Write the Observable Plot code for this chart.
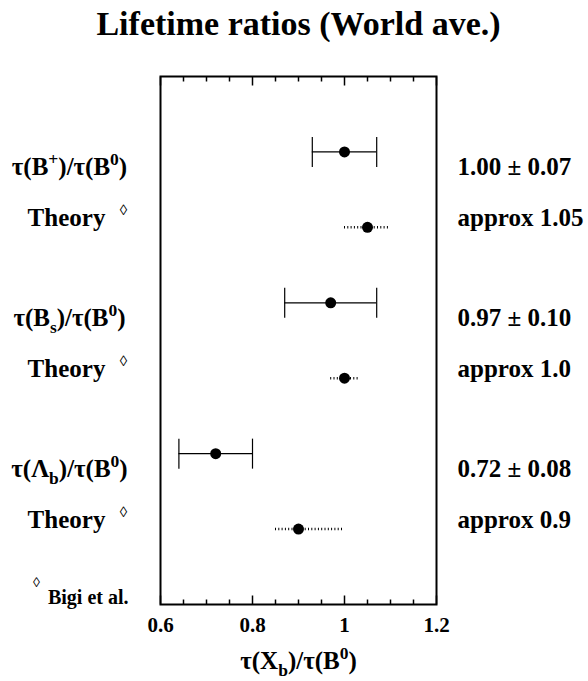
<!DOCTYPE html>
<html><head><meta charset="utf-8">
<script src="https://cdn.jsdelivr.net/npm/d3@7"></script>
<script src="https://cdn.jsdelivr.net/npm/@observablehq/plot@0.6"></script>
<style>
body{margin:0;background:#fff;}
svg{display:block;}
#chart svg, #chart svg text, #chart svg tspan{font-family:"Liberation Serif","Times New Roman","DejaVu Serif",serif !important;}
</style>
</head><body><div id="chart"></div>
<script>
const title = "Lifetime ratios (World ave.)";
const xLabel = "τ(X_{b})/τ(B^{0})";
const footnoteText = "Bigi et al.";
const theoryMark = "◊";

const measNames = ["τ(B^{+})/τ(B^{0})", "τ(B_{s})/τ(B^{0})", "τ(Λ_{b})/τ(B^{0})"];
const measRows = [1, 3, 5];
const measValues = [1.00, 0.97, 0.72];
const measErrors = [0.07, 0.10, 0.08];
const measTexts = ["1.00 ± 0.07", "0.97 ± 0.10", "0.72 ± 0.08"];

const theoryNames = ["Theory", "Theory", "Theory"];
const theoryRows = [2, 4, 6];
const theoryValues = [1.05, 1.00, 0.90];
const theoryLow = [1.00, 0.97, 0.85];
const theoryHigh = [1.10, 1.03, 1.00];
const theoryTexts = ["approx 1.05", "approx 1.0", "approx 0.9"];

const majorTicks = [0.6, 0.8, 1.0, 1.2];
const tickLabels = ["0.6", "0.8", "1", "1.2"];
const minorTicks = [0.65, 0.7, 0.75, 0.85, 0.9, 0.95, 1.05, 1.1, 1.15];

const meas = measNames.map((name, i) => ({
  name, row: measRows[i], value: measValues[i],
  lo: measValues[i] - measErrors[i], hi: measValues[i] + measErrors[i], text: measTexts[i]
}));
const theory = theoryNames.map((name, i) => ({
  name, row: theoryRows[i], value: theoryValues[i],
  lo: theoryLow[i], hi: theoryHigh[i], text: theoryTexts[i]
}));

const FONT = "'Liberation Serif', 'Times New Roman', 'DejaVu Serif', serif";
const rad = (size) => Math.sqrt(size / Math.PI);
const capSymbol = {draw(ctx, size) { const r = rad(size); ctx.moveTo(0, -r); ctx.lineTo(0, r); }};
const tickUp = {draw(ctx, size) { const r = rad(size); ctx.moveTo(0, 0); ctx.lineTo(0, -r); }};
const tickDown = {draw(ctx, size) { const r = rad(size); ctx.moveTo(0, 0); ctx.lineTo(0, r); }};

const txt = {fontFamily: FONT, fontWeight: "bold", fill: "black"};

const chart = Plot.plot({
  width: 588,
  height: 681,
  marginLeft: 160,
  marginRight: 152,
  marginTop: 76,
  marginBottom: 77,
  style: {fontFamily: FONT, background: "white", color: "black"},
  x: {domain: [0.6, 1.2]},
  y: {domain: [0, 7], reverse: true, axis: null},
  marks: [
    // axis ticks (inward)
    Plot.dot(majorTicks, {x: d => d, frameAnchor: "bottom", symbol: tickUp, r: 9, stroke: "black", fill: "none", strokeWidth: 1.5}),
    Plot.dot(minorTicks, {x: d => d, frameAnchor: "bottom", symbol: tickUp, r: 5, stroke: "black", fill: "none", strokeWidth: 1.5}),
    Plot.dot(majorTicks, {x: d => d, frameAnchor: "top", symbol: tickDown, r: 9, stroke: "black", fill: "none", strokeWidth: 1.5}),
    Plot.dot(minorTicks, {x: d => d, frameAnchor: "top", symbol: tickDown, r: 5, stroke: "black", fill: "none", strokeWidth: 1.5}),
    Plot.axisX({ticks: majorTicks, tickFormat: d => tickLabels[majorTicks.indexOf(d)], tickSize: 0, tickPadding: 13,
      fontSize: 21, fontWeight: "bold", fontFamily: FONT, fill: "black"}),
    Plot.frame({stroke: "black", strokeWidth: 2}),
    // measurements
    Plot.ruleY(meas, {y: "row", x1: "lo", x2: "hi", stroke: "black", strokeWidth: 1.2}),
    Plot.dot(meas, {x: "lo", y: "row", symbol: capSymbol, r: 15, stroke: "black", fill: "none", strokeWidth: 1.2}),
    Plot.dot(meas, {x: "hi", y: "row", symbol: capSymbol, r: 15, stroke: "black", fill: "none", strokeWidth: 1.2}),
    Plot.dot(meas, {x: "value", y: "row", r: 5.5, fill: "black", stroke: null}),
    // theory
    Plot.ruleY(theory, {y: "row", x1: "lo", x2: "hi", stroke: "black", strokeWidth: 2.5, strokeDasharray: "1,2.3"}),
    Plot.dot(theory, {x: "value", y: "row", r: 5.5, fill: "black", stroke: null}),
    // left labels
    Plot.text(meas, {y: "row", text: "name", frameAnchor: "left", dx: -91, dy: 15, textAnchor: "middle", fontSize: 25, ...txt}),
    Plot.text(theory, {y: "row", text: "name", frameAnchor: "left", dx: -94, dy: -9, textAnchor: "middle", fontSize: 25, ...txt}),
    Plot.text(theory, {y: "row", text: () => theoryMark, frameAnchor: "left", dx: -37, dy: -17, textAnchor: "middle", fontSize: 15, fontFamily: FONT, fill: "black"}),
    // right labels
    Plot.text(meas, {y: "row", text: "text", frameAnchor: "right", dx: 21, dy: 15, textAnchor: "start", fontSize: 25, ...txt}),
    Plot.text(theory, {y: "row", text: "text", frameAnchor: "right", dx: 21, dy: -9, textAnchor: "start", fontSize: 25, ...txt}),
    // title, axis label, footnote
    Plot.text([title], {frameAnchor: "top", dy: -42, lineAnchor: "bottom", fontSize: 34, ...txt}),
    Plot.text([xLabel], {frameAnchor: "bottom", dy: 64, lineAnchor: "bottom", fontSize: 25, ...txt}),
    Plot.text([footnoteText], {frameAnchor: "bottom-left", dx: -32, dy: -1, lineAnchor: "bottom", textAnchor: "end", fontSize: 20, ...txt}),
    Plot.text([theoryMark], {frameAnchor: "bottom-left", dx: -124, dy: -18, textAnchor: "middle", fontSize: 14, fontFamily: FONT, fill: "black"})
  ]
});

document.getElementById("chart").appendChild(chart);

// convert ^{..} and _{..} markup into real super/subscript tspans
d3.select(chart).selectAll("text").each(function() {
  const s = this.textContent;
  if (!/[\^_]\{/.test(s)) return;
  const fs = parseFloat(getComputedStyle(this).fontSize) || 24;
  const parts = [];
  const re = /([\^_])\{([^}]*)\}/g;
  let last = 0, m;
  while ((m = re.exec(s))) {
    if (m.index > last) parts.push({t: s.slice(last, m.index), k: ""});
    parts.push({t: m[2], k: m[1]});
    last = re.lastIndex;
  }
  if (last < s.length) parts.push({t: s.slice(last), k: ""});
  const el = d3.select(this);
  el.text(null);
  let shift = 0;
  for (const p of parts) {
    const target = p.k === "^" ? -0.4 * fs : p.k === "_" ? 0.28 * fs : 0;
    const ts = el.append("tspan").text(p.t).attr("dy", target - shift);
    if (p.k) ts.attr("font-size", 0.7 * fs);
    shift = target;
  }
});
</script>
</body></html>
